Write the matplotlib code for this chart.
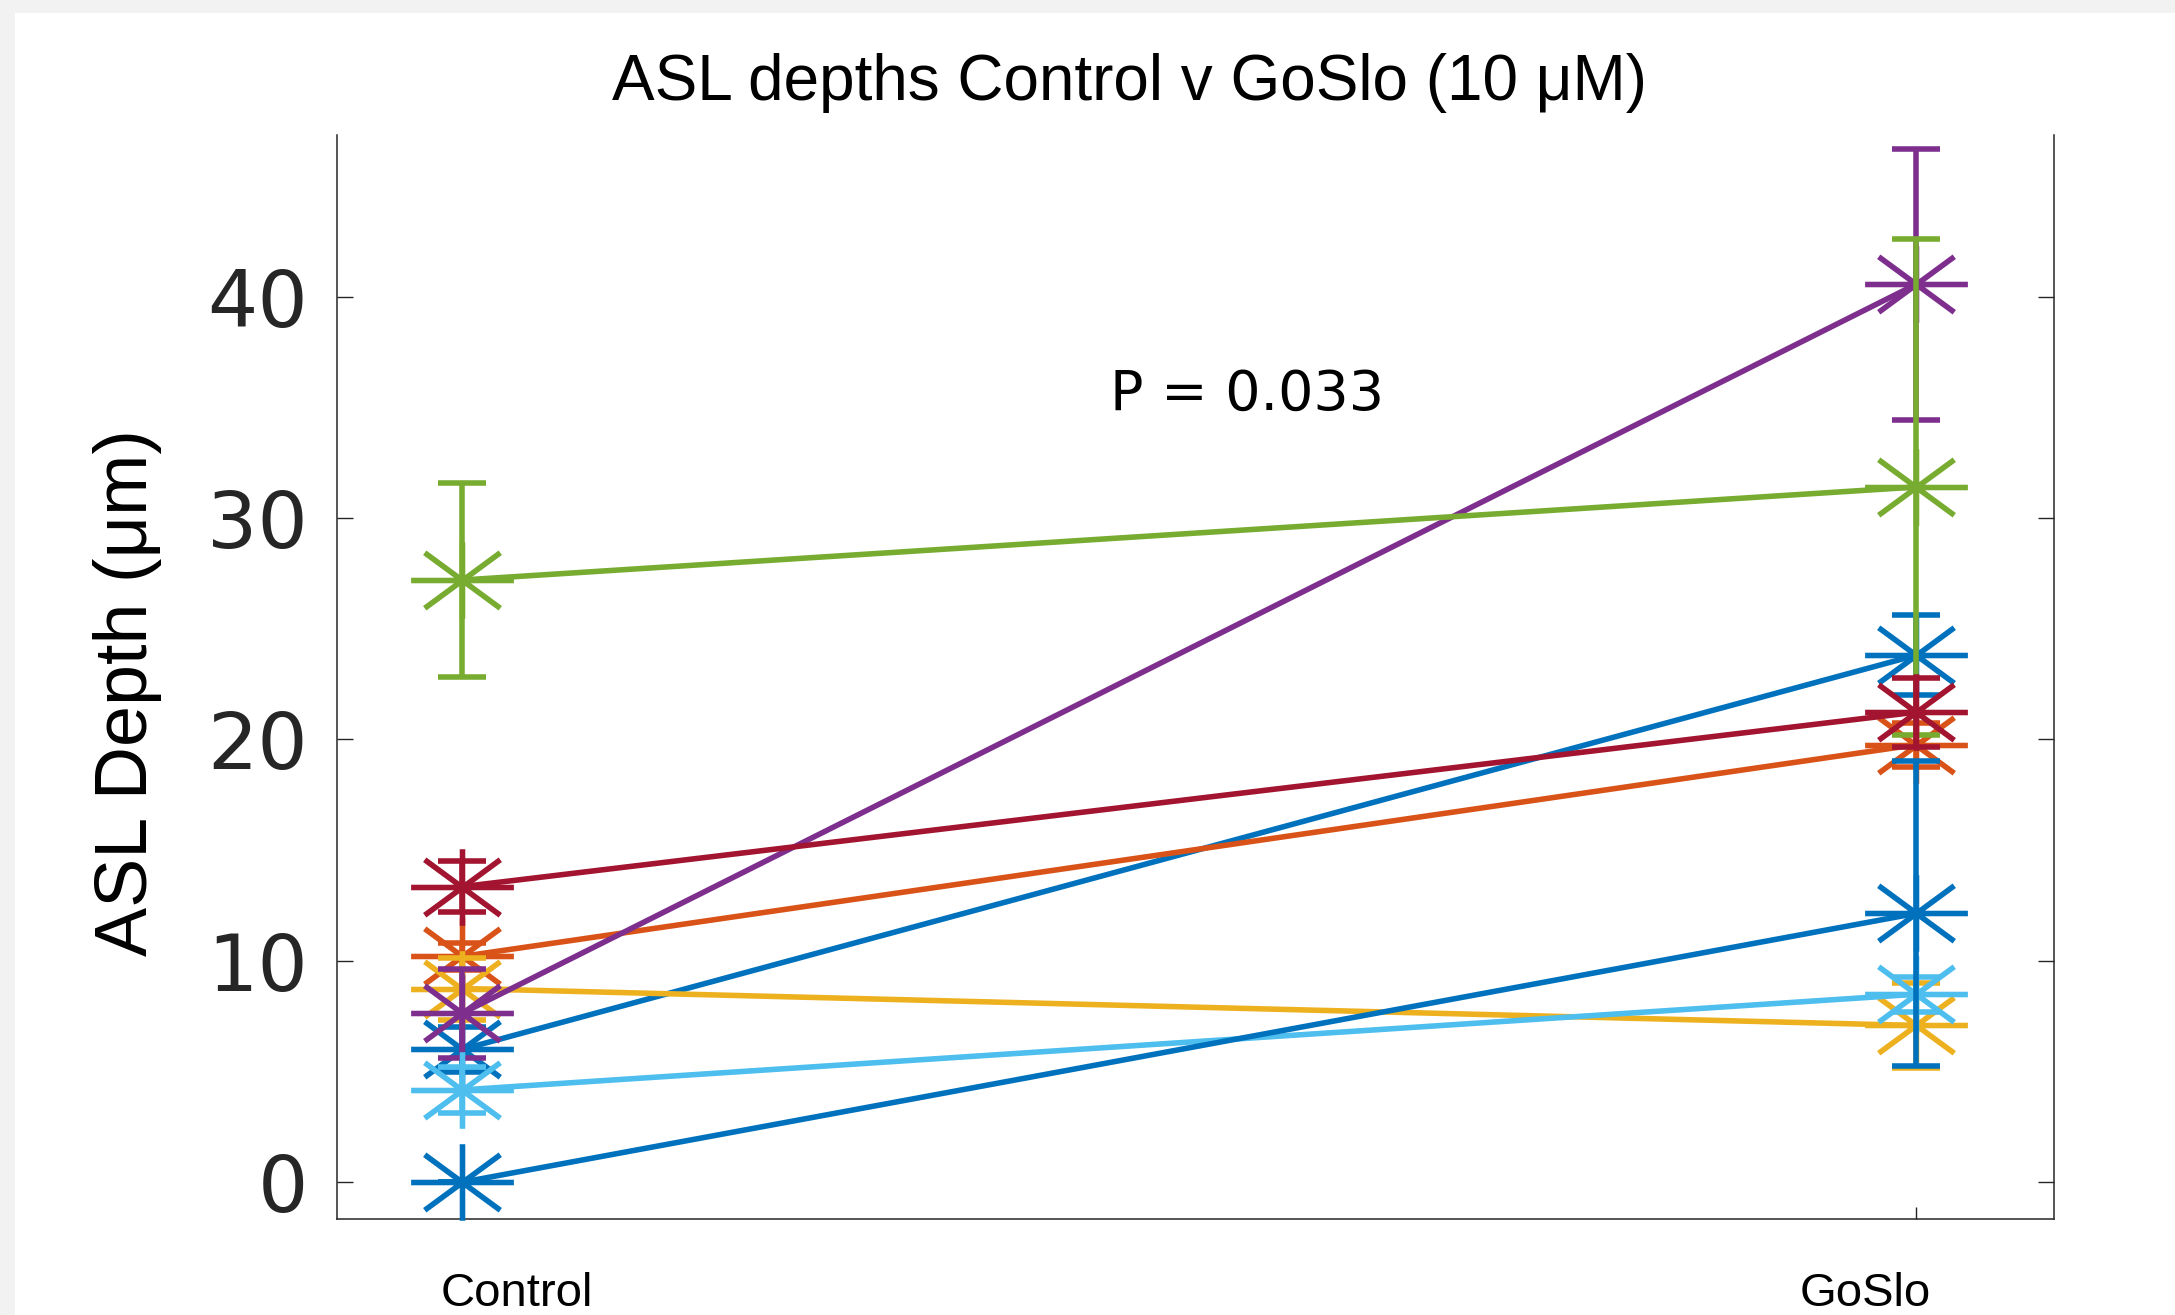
import numpy as np
import matplotlib

matplotlib.use("Agg")
import matplotlib.pyplot as plt
from matplotlib.path import Path
from matplotlib.patches import Rectangle

# group positions and labels
conditions = ["Control", "GoSlo"]
x_pos = [1, 2]

# per-preparation means and error (um), control then GoSlo
control_mean = [6.0, 10.2, 8.75, 7.63, 27.2, 4.17, 13.35, 0.0]
control_err = [1.0, 0.6, 1.4, 2.0, 4.4, 1.05, 1.15, 0.0]
goslo_mean = [23.8, 19.76, 7.08, 40.55, 31.4, 8.49, 21.23, 12.14]
goslo_err = [1.8, 1.0, 1.9, 6.1, 11.2, 0.8, 1.55, 6.9]

# MATLAB default colour order (8th wraps to blue)
colors = ["#0072BD", "#D95319", "#EDB120", "#7E2F8E",
          "#77AC30", "#4DBEEE", "#A2142F", "#0072BD"]

y_ticks = [0, 10, 20, 30, 40]
title = "ASL depths Control v GoSlo (10 \u03bcM)"
ylabel = "ASL Depth (\u03bcm)"
p_text = "P = 0.033"

W, H, DPI = 2175, 1315, 100

# asterisk marker, slightly squashed like the stretched original
hx, vy, dx, dy = 1.0, 0.745, 0.735, 0.54
star_verts = [(-hx, 0), (hx, 0), (0, -vy), (0, vy),
              (-dx, -dy), (dx, dy), (-dx, dy), (dx, -dy)]
star_codes = [Path.MOVETO, Path.LINETO] * 4
star = Path(star_verts, star_codes)

fig = plt.figure(figsize=(W / DPI, H / DPI), dpi=DPI, facecolor="#f2f2f2")
fig.patches.append(Rectangle((15 / W, 0), 1, 1 - 13 / H, transform=fig.transFigure,
                             facecolor="white", edgecolor="none", zorder=-10))

left, right, top, bottom = 337, 2054, 135, 1219
ax = fig.add_axes([left / W, 1 - bottom / H, (right - left) / W, (bottom - top) / H])
ax.set_zorder(1)
ax.set_facecolor("white")

lw = 4.0
for i in range(len(control_mean)):
    ax.errorbar(x_pos, [control_mean[i], goslo_mean[i]],
                yerr=[control_err[i], goslo_err[i]],
                color=colors[i], linewidth=lw, elinewidth=lw,
                marker=star, markersize=74, markeredgewidth=lw,
                capsize=17, capthick=lw, zorder=2 + i, clip_on=False)

ax.set_xlim(0.914, 2.095)
ax.set_ylim(-1.66, 47.3)
ax.set_xticks(x_pos)
ax.set_xticklabels([])
ax.set_yticks(y_ticks)
ax.set_yticklabels([str(t) for t in y_ticks], family="DejaVu Sans",
                   fontsize=57, color="#262626")

ax.spines["top"].set_visible(False)
for s in ("left", "right", "bottom"):
    ax.spines[s].set_color("#262626")
    ax.spines[s].set_linewidth(1.1)
ax.tick_params(axis="y", direction="in", length=11.5, width=1.0, colors="#262626",
               left=True, right=True, pad=21)
ax.tick_params(axis="x", direction="in", length=8.6, width=1.0, colors="#262626",
               top=False)

ax.set_title(title, family="Liberation Sans", fontsize=46, color="black",
             x=(1130 - left) / (right - left), y=(bottom - 91) / (bottom - top),
             va="center")

ax.set_ylabel(ylabel, family="Liberation Sans", fontsize=53, color="black",
              va="center")
ax.yaxis.set_label_coords((128 - left) / (right - left), (bottom - 693) / (bottom - top))

ax.text((1247 - left) / (right - left), (bottom - 395) / (bottom - top), p_text,
        transform=ax.transAxes, ha="center", va="center",
        family="DejaVu Sans", fontsize=40, color="black")

# condition labels sit offset under the axis, as in the original
for name, xc in zip(conditions, [517, 1865]):
    fig.text(xc / W, (H - 1306) / H, name, ha="center", va="baseline",
             family="Liberation Sans", fontsize=34, color="black")

fig.savefig("out.png", dpi=DPI, facecolor=fig.get_facecolor())
